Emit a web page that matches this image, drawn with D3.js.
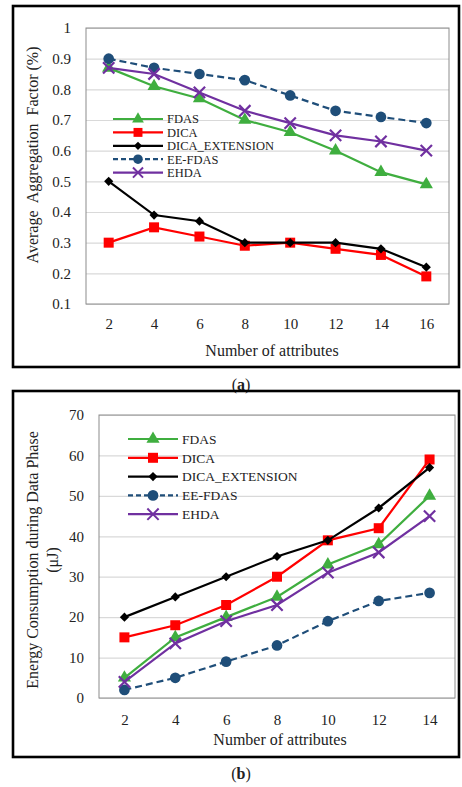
<!DOCTYPE html>
<html>
<head>
<meta charset="utf-8">
<script src="https://cdn.jsdelivr.net/npm/d3@7"></script>
<style>
  body { margin: 0; background: #fff; }
  text { font-family: "Liberation Serif", "Times New Roman", "DejaVu Serif", serif; fill: #222; }
</style>
</head>
<body>
<svg id="svg"></svg>
<script>
// Global variables
let svg = d3.select("#svg");
const width = 462;
const height = 787;

const seriesNames = ["FDAS", "DICA", "DICA_EXTENSION", "EE-FDAS", "EHDA"];

// panel (a)
const attrsA = ["2", "4", "6", "8", "10", "12", "14", "16"];
const fdasA = [0.87, 0.81, 0.77, 0.70, 0.66, 0.60, 0.53, 0.49];
const dicaA = [0.30, 0.35, 0.32, 0.29, 0.30, 0.28, 0.26, 0.19];
const dicaExtA = [0.50, 0.39, 0.37, 0.30, 0.30, 0.30, 0.28, 0.22];
const eeFdasA = [0.90, 0.87, 0.85, 0.83, 0.78, 0.73, 0.71, 0.69];
const ehdaA = [0.87, 0.85, 0.79, 0.73, 0.69, 0.65, 0.63, 0.60];
const ticksA = [0.1, 0.2, 0.3, 0.4, 0.5, 0.6, 0.7, 0.8, 0.9, 1];

// panel (b)
const attrsB = ["2", "4", "6", "8", "10", "12", "14"];
const fdasB = [5, 15, 20, 25, 33, 38, 50];
const dicaB = [15, 18, 23, 30, 39, 42, 59];
const dicaExtB = [20, 25, 30, 35, 39, 47, 57];
const eeFdasB = [2, 5, 9, 13, 19, 24, 26];
const ehdaB = [4, 13.5, 19, 23, 31, 36, 45];
const ticksB = [0, 10, 20, 30, 40, 50, 60, 70];

// look of each series (diamond = square turned 45 degrees)
const styles = {
    "FDAS": { color: "#3fae3f", symbol: d3.symbolTriangle, size: 75, dash: null, rot: 0 },
    "DICA": { color: "#ff0000", symbol: d3.symbolSquare, size: 100, dash: null, rot: 0 },
    "DICA_EXTENSION": { color: "#000000", symbol: d3.symbolSquare, size: 42, dash: null, rot: 45 },
    "EE-FDAS": { color: "#1f4e79", symbol: d3.symbolCircle, size: 90, dash: "7,4", rot: 0 },
    "EHDA": { color: "#7030a0", symbol: d3.symbolX || d3.symbolCross, size: 85, dash: null, rot: 0, stroked: true }
};

svg.attr("width", width).attr("height", height);

function drawPanel(p) {
    // outer black frame
    svg.append("rect")
        .attr("x", p.frame[0]).attr("y", p.frame[1])
        .attr("width", p.frame[2]).attr("height", p.frame[3])
        .attr("fill", "none").attr("stroke", "#000").attr("stroke-width", 2.6);

    let x = d3.scalePoint().domain(p.cats).range([p.left, p.right]).padding(0.5);
    let y = d3.scaleLinear().domain(p.domain).range([p.bottom, p.top]);

    // gridlines
    svg.append("g")
        .attr("transform", "translate(" + p.left + ",0)")
        .call(d3.axisLeft(y).tickValues(p.ticks).tickSize(-(p.right - p.left)).tickFormat(""))
        .call(g => g.select(".domain").remove())
        .selectAll("line").attr("stroke", "#d9d9d9").attr("stroke-width", 1.2);

    // plot area border
    svg.append("rect")
        .attr("x", p.left).attr("y", p.top)
        .attr("width", p.right - p.left).attr("height", p.bottom - p.top)
        .attr("fill", "none").attr("stroke", "#8c8c8c").attr("stroke-width", 1);

    // y tick labels
    let ya = svg.append("g")
        .attr("transform", "translate(" + p.yLabelX + ",0)")
        .call(d3.axisLeft(y).tickValues(p.ticks).tickSize(0).tickPadding(0).tickFormat(p.fmt));
    ya.select(".domain").remove();
    ya.selectAll("text").style("font-size", "15px").attr("fill", "#222");

    // x tick labels
    let xa = svg.append("g")
        .attr("transform", "translate(0," + p.xLabelY + ")")
        .call(d3.axisBottom(x).tickSize(0).tickPadding(0));
    xa.select(".domain").remove();
    xa.selectAll("text").style("font-size", "15px").attr("fill", "#222");

    // axis titles
    svg.append("text")
        .attr("x", p.xTitle[0]).attr("y", p.xTitle[1])
        .attr("text-anchor", "middle")
        .style("font-size", "16px")
        .text("Number of attributes");

    p.yTitles.forEach(t => {
        svg.append("text")
            .attr("transform", "translate(" + t.x + "," + t.y + ") rotate(-90)")
            .attr("text-anchor", "middle")
            .style("font-size", "16px")
            .style("white-space", "pre")
            .text(t.text);
    });

    // caption
    let cap = svg.append("text")
        .attr("x", p.caption[0]).attr("y", p.caption[1])
        .attr("text-anchor", "middle")
        .style("font-size", "16px");
    cap.append("tspan").text("(");
    cap.append("tspan").style("font-weight", "bold").text(p.letter);
    cap.append("tspan").text(")");

    // series lines and markers
    seriesNames.forEach((name, i) => {
        let st = styles[name];
        let vals = p.series[i];
        let line = d3.line()
            .x((d, j) => x(p.cats[j]))
            .y(d => y(d));
        svg.append("path")
            .datum(vals)
            .attr("d", line)
            .attr("fill", "none")
            .attr("stroke", st.color)
            .attr("stroke-width", 2.2)
            .attr("stroke-dasharray", st.dash);

        svg.append("g").selectAll("path")
            .data(vals)
            .enter()
            .append("path")
            .attr("transform", (d, j) => "translate(" + x(p.cats[j]) + "," + y(d) + ") rotate(" + st.rot + ")")
            .attr("d", d3.symbol().type(st.symbol).size(st.size))
            .attr("fill", st.stroked ? "none" : st.color)
            .attr("stroke", st.color)
            .attr("stroke-width", st.stroked ? 2.2 : 0);
    });

    // legend
    seriesNames.forEach((name, i) => {
        let st = styles[name];
        let ly = p.legend.y + i * p.legend.dy;
        let g = svg.append("g");
        g.append("line")
            .attr("x1", p.legend.x).attr("x2", p.legend.x + p.legend.len)
            .attr("y1", ly).attr("y2", ly)
            .attr("stroke", st.color).attr("stroke-width", 2.2)
            .attr("stroke-dasharray", st.dash ? "5,3" : null);
        g.append("path")
            .attr("transform", "translate(" + (p.legend.x + p.legend.len / 2) + "," + ly + ") rotate(" + st.rot + ")")
            .attr("d", d3.symbol().type(st.symbol).size(st.size * p.legend.scale))
            .attr("fill", st.stroked ? "none" : st.color)
            .attr("stroke", st.color)
            .attr("stroke-width", st.stroked ? 2 : 0);
        g.append("text")
            .attr("x", p.legend.x + p.legend.len + 4).attr("y", ly)
            .attr("dy", "0.35em")
            .style("font-size", p.legend.font)
            .text(name);
    });
}

drawPanel({
    frame: [13, 6, 446, 361],
    left: 86, right: 449, top: 28, bottom: 304,
    cats: attrsA, domain: [0.1, 1], ticks: ticksA,
    fmt: d => d === 1 ? "1" : d3.format(".1f")(d),
    yLabelX: 71, xLabelY: 318,
    xTitle: [272, 356],
    yTitles: [{ x: 38, y: 155, text: "Average  Aggregation  Factor (%)" }],
    caption: [241, 390], letter: "a",
    series: [fdasA, dicaA, dicaExtA, eeFdasA, ehdaA],
    legend: { x: 113, y: 119, dy: 13.4, len: 50, font: "12.5px", scale: 0.8 }
});

drawPanel({
    frame: [13, 391, 446, 366],
    left: 99, right: 455, top: 415, bottom: 698,
    cats: attrsB, domain: [0, 70], ticks: ticksB,
    fmt: d3.format("d"),
    yLabelX: 84, xLabelY: 714,
    xTitle: [280, 745],
    yTitles: [
        { x: 38, y: 560, text: "Energy Consumption during Data Phase" },
        { x: 58, y: 560, text: "(μJ)" }
    ],
    caption: [241, 779], letter: "b",
    series: [fdasB, dicaB, dicaExtB, eeFdasB, ehdaB],
    legend: { x: 128, y: 439, dy: 18.8, len: 50, font: "13.5px", scale: 1 }
});
</script>
</body>
</html>
